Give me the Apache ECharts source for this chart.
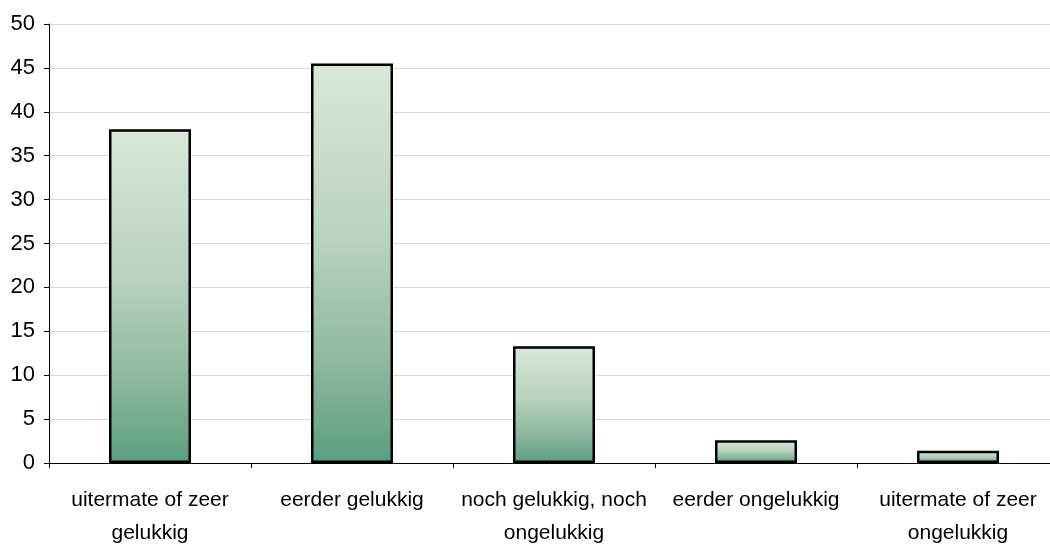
<!DOCTYPE html>
<html>
<head>
<meta charset="utf-8">
<script src="https://cdn.jsdelivr.net/npm/echarts@6/dist/echarts.min.js"></script>
<style>
  html, body { margin: 0; padding: 0; background: #fff; }
  #chart { width: 1050px; height: 545px; }
</style>
</head>
<body>
<div id="chart"></div>
<script>
// categories and values
const categories = [
  'uitermate of zeer\ngelukkig',
  'eerder gelukkig',
  'noch gelukkig, noch\nongelukkig',
  'eerder ongelukkig',
  'uitermate of zeer\nongelukkig'
]
const values = [38.0, 45.5, 13.3, 2.6, 1.4]
const yTicks = [0, 5, 10, 15, 20, 25, 30, 35, 40, 45, 50]

const chart = echarts.init(document.getElementById('chart'))

chart.setOption({
  animation: false,
  grid: {
    left: 49,
    width: 1010,
    top: 24,
    bottom: 82,
    outerBoundsMode: 'none'
  },
  xAxis: {
    type: 'category',
    data: categories,
    axisLine: { lineStyle: { color: '#000', width: 1 } },
    axisTick: { show: true, length: 5, lineStyle: { color: '#000' } },
    axisLabel: {
      color: '#000',
      fontFamily: 'Liberation Sans, Arial, sans-serif',
      fontSize: 21,
      lineHeight: 33,
      margin: 21,
      interval: 0
    }
  },
  yAxis: {
    type: 'value',
    min: yTicks[0],
    max: yTicks[yTicks.length - 1],
    interval: 5,
    axisLine: { show: true, lineStyle: { color: '#000', width: 1 } },
    axisTick: { show: true, length: 5, lineStyle: { color: '#000' } },
    splitLine: { lineStyle: { color: '#d9d9d9', width: 1 } },
    axisLabel: {
      color: '#000',
      fontFamily: 'Liberation Sans, Arial, sans-serif',
      fontSize: 22,
      margin: 14
    }
  },
  series: [{
    type: 'bar',
    data: values,
    barWidth: 82,
    itemStyle: {
      borderColor: '#000',
      borderWidth: 2.5,
      color: new echarts.graphic.LinearGradient(0, 0, 0, 1, [
        { offset: 0, color: '#d9e8d7' },
        { offset: 0.45, color: '#b7d2bf' },
        { offset: 0.75, color: '#8db7a0' },
        { offset: 1, color: '#5a9e80' }
      ])
    }
  }]
})
</script>
</body>
</html>
